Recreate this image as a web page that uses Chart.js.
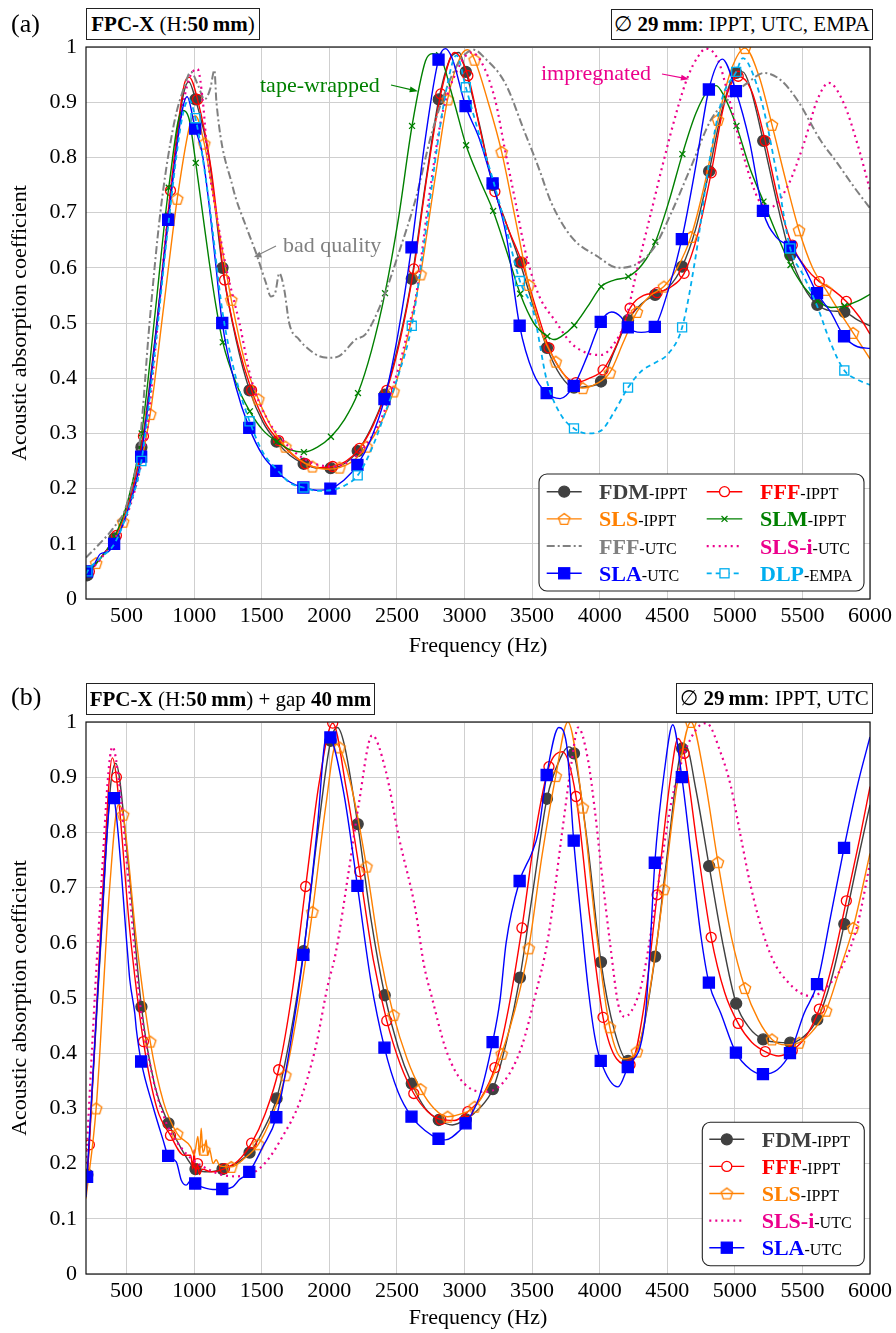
<!DOCTYPE html>
<html>
<head>
<meta charset="utf-8">
<script src="https://cdn.jsdelivr.net/npm/chart.js@4.4.1/dist/chart.umd.min.js"></script>
<style>
  body { margin: 0; background: #fff; font-family: "Liberation Serif", "Times New Roman", serif; }
  #page { position: relative; width: 896px; height: 1333px; overflow: hidden; }
  .panel { position: absolute; left: 0; width: 896px; }
  .tag { position: absolute; font-size: 26px; line-height: 30px; }
  .box { position: absolute; box-sizing: border-box; border: 1.2px solid #222; background: #fff;
         font-size: 21px; display: flex; align-items: center; justify-content: center; white-space: nowrap; }
  .note { position: absolute; font-size: 22px; line-height: 26px; white-space: nowrap; }
  svg { position: absolute; left: 0; top: 0; pointer-events: none; }
</style>
</head>
<body>
<div id="page">
  <div class="panel" style="top:0;height:665px"><canvas id="chartA" width="896" height="665"></canvas></div>
  <div class="panel" style="top:665px;height:668px"><canvas id="chartB" width="896" height="668"></canvas></div>

  <div class="tag" style="left:11px;top:9px">(a)</div>
  <div class="box" style="left:86px;top:8px;width:174px;height:32px"><span><b>FPC-X</b> (H:<b>50&#8201;mm</b>)</span></div>
  <div class="box" style="left:611px;top:9px;width:262px;height:31px"><span>&#8709; <b>29&#8201;mm</b>: IPPT, UTC, EMPA</span></div>

  <div class="tag" style="left:11px;top:682px">(b)</div>
  <div class="box" style="left:86px;top:683px;width:289px;height:32px"><span><b>FPC-X</b> (H:<b>50&#8201;mm</b>) + gap <b>40&#8201;mm</b></span></div>
  <div class="box" style="left:676px;top:683px;width:197px;height:31px"><span>&#8709; <b>29&#8201;mm</b>: IPPT, UTC</span></div>

  <div class="note" style="left:260px;top:72px;color:#008000">tape-wrapped</div>
  <div class="note" style="left:283px;top:232px;color:#808080">bad quality</div>
  <div class="note" style="left:541px;top:60px;color:#ec008c">impregnated</div>

  <svg width="896" height="1333">
    <line x1="391" y1="85" x2="414" y2="90.3" stroke="#008000" stroke-width="1.2"/>
    <polygon points="418,91.2 410.5,86.6 409.3,92.3" fill="#008000"/>
    <line x1="276" y1="246" x2="258" y2="255" stroke="#808080" stroke-width="1.2"/>
    <polygon points="254,257 262,257.5 259.5,251.5" fill="#808080"/>
    <line x1="662" y1="74" x2="685" y2="78.4" stroke="#ec008c" stroke-width="1.2"/>
    <polygon points="689,79.2 681.6,74.7 680.5,80.4" fill="#ec008c"/>
  </svg>
</div>

<script>
// ---------- axes ----------
const freqTicks = [500, 1000, 1500, 2000, 2500, 3000, 3500, 4000, 4500, 5000, 5500, 6000];
const absTicks = [0, 0.1, 0.2, 0.3, 0.4, 0.5, 0.6, 0.7, 0.8, 0.9, 1];

// ---------- (a) FPC-X, H 50 mm : [frequency Hz, absorption] ----------
const fdmA = [[210,0.043],[310,0.075],[410,0.11],[510,0.17],[610,0.275],[710,0.47],[810,0.69],[910,0.9],[960,0.937],[1010,0.905],[1110,0.8],[1160,0.7],[1210,0.6],[1310,0.47],[1410,0.378],[1510,0.32],[1610,0.285],[1710,0.26],[1810,0.245],[1910,0.237],[2010,0.237],[2110,0.245],[2210,0.268],[2310,0.31],[2410,0.37],[2510,0.46],[2610,0.58],[2710,0.75],[2810,0.905],[2910,0.985],[2960,0.99],[3010,0.955],[3110,0.86],[3210,0.75],[3310,0.68],[3410,0.61],[3510,0.53],[3610,0.455],[3710,0.405],[3810,0.383],[3910,0.385],[4010,0.394],[4110,0.45],[4210,0.505],[4310,0.535],[4410,0.551],[4510,0.565],[4610,0.602],[4710,0.67],[4810,0.775],[4910,0.89],[5010,0.953],[5060,0.955],[5110,0.93],[5210,0.83],[5310,0.72],[5410,0.623],[5510,0.565],[5610,0.533],[5710,0.522],[5810,0.52],[5910,0.505],[6000,0.495]];

const fffA = [[200,0.045],[225,0.05],[325,0.08],[425,0.115],[525,0.18],[625,0.295],[725,0.5],[825,0.74],[925,0.93],[965,0.945],[1025,0.905],[1125,0.78],[1225,0.578],[1325,0.46],[1425,0.378],[1525,0.32],[1625,0.287],[1725,0.262],[1825,0.245],[1925,0.238],[2025,0.24],[2125,0.25],[2225,0.273],[2325,0.315],[2425,0.378],[2525,0.47],[2625,0.598],[2725,0.77],[2825,0.915],[2925,0.99],[3025,0.948],[3125,0.84],[3225,0.738],[3325,0.67],[3425,0.61],[3525,0.53],[3625,0.455],[3725,0.41],[3825,0.392],[3925,0.4],[4025,0.415],[4125,0.46],[4225,0.527],[4325,0.55],[4425,0.555],[4525,0.565],[4625,0.59],[4725,0.66],[4825,0.772],[4925,0.9],[5025,0.947],[5125,0.92],[5225,0.83],[5325,0.72],[5425,0.641],[5525,0.6],[5625,0.575],[5725,0.56],[5825,0.539],[5925,0.51],[6000,0.48]];

const slsA = [[200,0.045],[275,0.065],[375,0.095],[475,0.14],[575,0.215],[675,0.335],[775,0.53],[875,0.725],[975,0.865],[1010,0.875],[1075,0.825],[1175,0.68],[1275,0.542],[1375,0.43],[1475,0.362],[1575,0.31],[1675,0.276],[1775,0.253],[1875,0.24],[1975,0.235],[2075,0.238],[2175,0.25],[2275,0.276],[2375,0.315],[2475,0.376],[2575,0.47],[2675,0.588],[2775,0.75],[2875,0.905],[2975,0.985],[3025,0.995],[3075,0.977],[3175,0.9],[3275,0.81],[3375,0.69],[3475,0.569],[3575,0.48],[3675,0.43],[3775,0.395],[3875,0.382],[3975,0.39],[4075,0.41],[4175,0.465],[4275,0.52],[4375,0.55],[4475,0.566],[4575,0.6],[4675,0.656],[4775,0.75],[4875,0.868],[4975,0.96],[5075,0.998],[5175,0.95],[5275,0.859],[5375,0.76],[5475,0.668],[5575,0.6],[5675,0.56],[5775,0.52],[5875,0.482],[6000,0.435]];

const slmA = [[200,0.048],[212,0.05],[312,0.075],[412,0.113],[512,0.18],[612,0.3],[712,0.52],[812,0.745],[912,0.885],[962,0.87],[1012,0.79],[1062,0.7],[1112,0.61],[1162,0.53],[1212,0.465],[1312,0.39],[1412,0.34],[1512,0.305],[1612,0.285],[1712,0.27],[1812,0.266],[1912,0.275],[2012,0.294],[2112,0.325],[2212,0.373],[2312,0.45],[2412,0.554],[2512,0.69],[2612,0.857],[2712,0.975],[2762,0.988],[2812,0.985],[2912,0.91],[3012,0.822],[3112,0.76],[3212,0.703],[3312,0.63],[3412,0.553],[3512,0.5],[3612,0.476],[3662,0.47],[3712,0.475],[3812,0.496],[3912,0.53],[4012,0.566],[4112,0.578],[4212,0.584],[4312,0.605],[4412,0.647],[4512,0.72],[4612,0.806],[4712,0.88],[4812,0.925],[4862,0.93],[4912,0.915],[5012,0.857],[5112,0.78],[5212,0.72],[5312,0.66],[5412,0.605],[5512,0.565],[5612,0.54],[5712,0.528],[5812,0.531],[5912,0.54],[6000,0.552]];

const fffUtcA = [[200,0.075],[300,0.1],[400,0.128],[500,0.17],[600,0.29],[670,0.5],[750,0.7],[850,0.86],[930,0.93],[975,0.955],[1030,0.93],[1077,0.905],[1120,0.925],[1150,0.958],[1165,0.9],[1285,0.747],[1384,0.675],[1458,0.627],[1532,0.572],[1568,0.548],[1600,0.555],[1630,0.59],[1667,0.56],[1703,0.5],[1777,0.47],[1850,0.452],[1925,0.44],[2000,0.437],[2072,0.44],[2195,0.47],[2269,0.48],[2391,0.54],[2514,0.627],[2637,0.723],[2758,0.844],[2883,0.935],[2980,0.98],[3070,0.995],[3150,0.98],[3300,0.935],[3448,0.844],[3546,0.783],[3644,0.717],[3791,0.656],[3988,0.62],[4136,0.6],[4283,0.608],[4406,0.638],[4529,0.699],[4676,0.783],[4823,0.868],[4950,0.905],[5094,0.935],[5217,0.953],[5340,0.94],[5462,0.904],[5634,0.831],[5757,0.79],[5880,0.747],[6000,0.708]];

const slsiA = [[200,0.045],[300,0.07],[400,0.105],[500,0.15],[600,0.235],[650,0.3],[700,0.42],[800,0.68],[900,0.87],[960,0.94],[1025,0.96],[1065,0.9],[1100,0.8],[1163,0.7],[1237,0.6],[1335,0.5],[1420,0.4],[1532,0.33],[1654,0.288],[1826,0.252],[2022,0.24],[2220,0.264],[2390,0.33],[2514,0.42],[2600,0.505],[2637,0.542],[2735,0.723],[2831,0.873],[2950,0.96],[3050,0.99],[3120,0.975],[3227,0.904],[3300,0.813],[3374,0.723],[3448,0.632],[3520,0.57],[3570,0.54],[3668,0.505],[3791,0.463],[3914,0.445],[4010,0.442],[4111,0.464],[4185,0.5],[4280,0.6],[4380,0.7],[4480,0.8],[4578,0.89],[4652,0.946],[4726,0.982],[4786,0.997],[4873,0.978],[4946,0.918],[5020,0.844],[5117,0.76],[5192,0.717],[5265,0.71],[5389,0.747],[5512,0.826],[5610,0.904],[5696,0.935],[5806,0.898],[5905,0.826],[6000,0.741]];

const slaA = [[200,0.045],[208,0.05],[258,0.062],[308,0.082],[358,0.085],[408,0.1],[508,0.16],[608,0.258],[708,0.46],[808,0.687],[908,0.88],[948,0.91],[1008,0.852],[1058,0.81],[1108,0.72],[1158,0.61],[1208,0.5],[1308,0.385],[1408,0.31],[1508,0.26],[1608,0.232],[1708,0.212],[1808,0.202],[1908,0.197],[2008,0.2],[2108,0.215],[2208,0.243],[2308,0.29],[2408,0.362],[2508,0.48],[2608,0.637],[2708,0.83],[2808,0.977],[2858,0.997],[2908,0.98],[3008,0.893],[3108,0.835],[3208,0.753],[3308,0.66],[3408,0.495],[3508,0.41],[3608,0.373],[3708,0.363],[3808,0.386],[3908,0.44],[4008,0.502],[4088,0.52],[4158,0.511],[4208,0.492],[4308,0.483],[4408,0.493],[4508,0.56],[4608,0.652],[4708,0.78],[4808,0.923],[4908,0.978],[5008,0.92],[5108,0.83],[5208,0.703],[5308,0.655],[5408,0.638],[5508,0.603],[5608,0.554],[5708,0.52],[5808,0.476],[5908,0.457],[6000,0.454]];

const dlpA = [[200,0.045],[210,0.05],[310,0.075],[410,0.1],[510,0.16],[610,0.25],[710,0.45],[810,0.68],[910,0.87],[960,0.905],[1010,0.871],[1110,0.72],[1210,0.52],[1310,0.4],[1410,0.322],[1510,0.265],[1610,0.235],[1710,0.21],[1810,0.202],[1910,0.196],[2010,0.197],[2110,0.205],[2210,0.224],[2310,0.27],[2410,0.335],[2510,0.405],[2610,0.495],[2710,0.66],[2810,0.84],[2870,0.928],[2940,0.985],[3010,0.927],[3110,0.84],[3210,0.76],[3310,0.67],[3410,0.576],[3510,0.52],[3610,0.395],[3710,0.335],[3810,0.309],[3910,0.3],[4010,0.305],[4110,0.34],[4210,0.383],[4310,0.413],[4410,0.428],[4510,0.445],[4610,0.492],[4710,0.62],[4810,0.79],[4910,0.91],[5010,0.955],[5060,0.98],[5110,0.965],[5210,0.89],[5310,0.77],[5410,0.635],[5510,0.585],[5610,0.53],[5710,0.463],[5810,0.414],[5910,0.397],[6000,0.388]];

// ---------- (b) FPC-X, H 50 mm + gap 40 mm ----------
const fdmB = [[200,0.14],[210,0.18],[310,0.6],[380,0.88],[420,0.925],[510,0.75],[610,0.484],[710,0.34],[810,0.273],[910,0.225],[1010,0.19],[1110,0.185],[1210,0.19],[1310,0.2],[1410,0.22],[1510,0.26],[1610,0.318],[1710,0.43],[1810,0.585],[1910,0.79],[2010,0.966],[2060,0.99],[2110,0.96],[2210,0.815],[2310,0.64],[2410,0.505],[2510,0.41],[2610,0.345],[2710,0.3],[2810,0.279],[2910,0.27],[3010,0.28],[3110,0.3],[3210,0.335],[3310,0.42],[3410,0.537],[3510,0.7],[3610,0.861],[3710,0.935],[3770,0.955],[3810,0.943],[3910,0.78],[4010,0.565],[4110,0.44],[4210,0.386],[4310,0.43],[4410,0.575],[4510,0.78],[4610,0.952],[4640,0.955],[4710,0.88],[4810,0.739],[4910,0.6],[5010,0.49],[5110,0.445],[5210,0.425],[5310,0.42],[5410,0.419],[5510,0.43],[5610,0.461],[5710,0.53],[5810,0.634],[5910,0.75],[6000,0.85]];

const fffB = [[200,0.15],[225,0.234],[325,0.7],[395,0.935],[425,0.9],[525,0.62],[625,0.421],[725,0.3],[825,0.251],[925,0.215],[975,0.215],[990,0.19],[1000,0.225],[1010,0.18],[1025,0.2],[1040,0.18],[1060,0.19],[1125,0.185],[1225,0.191],[1325,0.205],[1425,0.237],[1525,0.29],[1625,0.37],[1725,0.51],[1825,0.702],[1925,0.89],[2025,0.998],[2125,0.88],[2225,0.729],[2325,0.57],[2425,0.459],[2525,0.38],[2625,0.327],[2725,0.295],[2825,0.28],[2925,0.278],[3025,0.294],[3125,0.32],[3225,0.374],[3325,0.48],[3425,0.627],[3525,0.8],[3625,0.919],[3725,0.946],[3825,0.865],[3925,0.65],[4025,0.465],[4125,0.39],[4225,0.379],[4325,0.48],[4425,0.687],[4525,0.9],[4580,0.97],[4625,0.943],[4725,0.77],[4825,0.61],[4925,0.51],[5025,0.454],[5125,0.42],[5225,0.403],[5325,0.395],[5425,0.405],[5525,0.43],[5625,0.48],[5725,0.565],[5825,0.676],[5925,0.79],[6000,0.883]];

const slsB = [[200,0.137],[275,0.3],[375,0.7],[440,0.85],[475,0.832],[575,0.6],[675,0.421],[775,0.31],[875,0.254],[975,0.23],[1000,0.215],[1028,0.249],[1040,0.215],[1052,0.264],[1065,0.22],[1075,0.225],[1089,0.243],[1100,0.215],[1114,0.225],[1140,0.2],[1163,0.207],[1190,0.196],[1275,0.194],[1375,0.21],[1475,0.235],[1575,0.285],[1675,0.36],[1775,0.49],[1875,0.656],[1975,0.85],[2050,0.96],[2075,0.954],[2175,0.87],[2275,0.738],[2375,0.58],[2475,0.469],[2575,0.39],[2675,0.335],[2775,0.3],[2875,0.285],[2975,0.29],[3075,0.303],[3175,0.34],[3275,0.399],[3375,0.48],[3475,0.59],[3575,0.76],[3675,0.902],[3765,1.0],[3875,0.845],[3975,0.62],[4075,0.447],[4175,0.39],[4275,0.403],[4375,0.52],[4475,0.697],[4575,0.89],[4675,1.0],[4775,0.9],[4875,0.746],[4975,0.61],[5075,0.518],[5175,0.46],[5275,0.425],[5375,0.415],[5475,0.419],[5575,0.44],[5675,0.477],[5775,0.55],[5875,0.627],[6000,0.762]];

const slsiB = [[200,0.2],[300,0.65],[396,0.955],[450,0.88],[500,0.75],[600,0.49],[700,0.35],[800,0.27],[900,0.23],[1000,0.205],[1100,0.19],[1200,0.18],[1300,0.177],[1409,0.18],[1532,0.203],[1654,0.249],[1777,0.309],[1900,0.412],[1986,0.52],[2047,0.581],[2145,0.732],[2219,0.853],[2317,0.976],[2416,0.913],[2514,0.792],[2637,0.66],[2700,0.56],[2760,0.5],[2858,0.41],[2950,0.36],[3050,0.335],[3153,0.33],[3300,0.351],[3423,0.412],[3521,0.502],[3620,0.611],[3718,0.792],[3791,0.925],[3841,0.99],[3914,0.931],[3964,0.841],[4013,0.732],[4086,0.581],[4136,0.49],[4185,0.466],[4283,0.502],[4332,0.55],[4431,0.702],[4529,0.853],[4627,0.943],[4726,0.99],[4790,0.998],[4897,0.943],[4971,0.883],[5044,0.792],[5118,0.702],[5217,0.611],[5300,0.56],[5389,0.53],[5480,0.51],[5570,0.503],[5680,0.52],[5800,0.56],[5905,0.63],[6000,0.744]];

const slaB = [[200,0.14],[208,0.176],[308,0.6],[390,0.87],[408,0.862],[508,0.58],[524,0.533],[561,0.472],[573,0.442],[608,0.385],[696,0.303],[770,0.243],[808,0.214],[868,0.203],[905,0.17],[942,0.161],[979,0.171],[1008,0.164],[1090,0.155],[1138,0.153],[1208,0.154],[1286,0.158],[1335,0.171],[1408,0.185],[1507,0.23],[1608,0.284],[1708,0.41],[1808,0.578],[1908,0.8],[1980,0.975],[2008,0.972],[2108,0.87],[2208,0.703],[2308,0.53],[2408,0.41],[2508,0.33],[2608,0.285],[2708,0.26],[2808,0.245],[2858,0.243],[2908,0.248],[3008,0.273],[3108,0.32],[3208,0.42],[3263,0.496],[3308,0.6],[3408,0.712],[3497,0.762],[3546,0.8],[3608,0.904],[3698,0.99],[3755,0.96],[3808,0.785],[3864,0.64],[3914,0.52],[3964,0.43],[4008,0.386],[4136,0.339],[4208,0.375],[4332,0.454],[4370,0.58],[4408,0.745],[4480,0.913],[4541,0.995],[4608,0.9],[4676,0.762],[4750,0.611],[4808,0.528],[4897,0.472],[5008,0.401],[5118,0.37],[5208,0.362],[5315,0.37],[5408,0.4],[5512,0.472],[5608,0.525],[5708,0.647],[5808,0.772],[5905,0.883],[6000,0.973]];

// ---------- styles ----------
const FONT = '"Liberation Serif", "Times New Roman", serif';

function pentagonMark(color, r) {
    const c = document.createElement('canvas');
    const s = Math.ceil(r * 2 + 4);
    c.width = s; c.height = s;
    const g = c.getContext('2d');
    g.strokeStyle = color;
    g.lineWidth = 1.3;
    g.beginPath();
    for (let i = 0; i < 5; i++) {
        const ang = -Math.PI / 2 + i * 2 * Math.PI / 5;
        const px = s / 2 + r * Math.cos(ang), py = s / 2 + 0.6 + r * Math.sin(ang);
        if (i) g.lineTo(px, py); else g.moveTo(px, py);
    }
    g.closePath();
    g.stroke();
    return c;
}

const STY = {
    FDM:  { color: '#404040', width: 1.4, dash: [], mark: 'circle', r: 5.5, fill: true },
    FFF:  { color: '#ff0000', width: 1.4, dash: [], mark: 'circle', r: 5, fill: false },
    SLS:  { color: '#ff8000', width: 1.4, dash: [], mark: pentagonMark('#ff8000', 6), r: 6, fill: false },
    SLM:  { color: '#008000', width: 1.4, dash: [], mark: 'crossRot', r: 4.2, fill: false },
    FFFU: { color: '#808080', width: 2, dash: [8, 3, 2, 3], mark: null },
    SLSI: { color: '#ec008c', width: 2.2, dash: [2, 4], mark: null },
    SLA:  { color: '#0000ff', width: 1.4, dash: [], mark: 'rect', r: 7.8, fill: true },
    DLP:  { color: '#00aeef', width: 1.8, dash: [5, 4], mark: 'rect', r: 6.4, fill: false }
};

function series(pairs, sty, start, step, order) {
    const isMark = x => sty.mark && x >= start && (x - start) % step === 0;
    return {
        data: pairs.map(p => ({ x: p[0], y: p[1] })),
        borderColor: sty.color,
        borderWidth: sty.width,
        borderDash: sty.dash,
        pointStyle: sty.mark || 'circle',
        pointRadius: c => (c.raw && isMark(c.raw.x)) ? sty.r : 0,
        pointBorderColor: sty.color,
        pointBackgroundColor: sty.fill ? sty.color : 'rgba(0,0,0,0)',
        pointBorderWidth: 1.3,
        cubicInterpolationMode: 'monotone',
        fill: false,
        order: order
    };
}

function drawMark(ctx, sty, x, y) {
    if (!sty.mark) return;
    ctx.save();
    ctx.setLineDash([]);
    ctx.strokeStyle = sty.color;
    ctx.fillStyle = sty.color;
    ctx.lineWidth = 1.3;
    if (typeof sty.mark === 'object') {
        ctx.drawImage(sty.mark, x - sty.mark.width / 2, y - sty.mark.height / 2);
    } else if (sty.mark === 'circle') {
        ctx.beginPath();
        ctx.arc(x, y, sty.r, 0, Math.PI * 2);
        if (sty.fill) ctx.fill(); else { ctx.fillStyle = '#fff'; ctx.fill(); }
        ctx.stroke();
    } else if (sty.mark === 'rect') {
        const h = sty.r * Math.SQRT1_2;
        if (sty.fill) ctx.fillRect(x - h, y - h, 2 * h, 2 * h);
        else { ctx.fillStyle = '#fff'; ctx.fillRect(x - h, y - h, 2 * h, 2 * h); }
        ctx.strokeRect(x - h, y - h, 2 * h, 2 * h);
    } else if (sty.mark === 'crossRot') {
        const h = sty.r * Math.SQRT1_2;
        ctx.beginPath();
        ctx.moveTo(x - h, y - h); ctx.lineTo(x + h, y + h);
        ctx.moveTo(x - h, y + h); ctx.lineTo(x + h, y - h);
        ctx.stroke();
    }
    ctx.restore();
}

// plot frame + boxed legend
const framePlugin = {
    id: 'frameLegend',
    afterDraw(chart, args, opts) {
        const { ctx, chartArea: a } = chart;
        ctx.save();
        ctx.strokeStyle = '#111';
        ctx.lineWidth = 1.2;
        ctx.strokeRect(a.left, a.top, a.right - a.left, a.bottom - a.top);

        const L = opts.legend;
        if (L) {
            ctx.beginPath();
            ctx.roundRect(L.x, L.y, L.w, L.h, 8);
            ctx.fillStyle = '#fff';
            ctx.fill();
            ctx.lineWidth = 1.1;
            ctx.strokeStyle = '#222';
            ctx.stroke();
            L.items.forEach(it => {
                const [name, suffix, key, col, row] = it;
                const sty = STY[key];
                const c = L.cols[col];
                const y = L.rowY + row * L.rowH;
                ctx.save();
                ctx.strokeStyle = sty.color;
                ctx.lineWidth = sty.width;
                ctx.setLineDash(sty.dash);
                ctx.beginPath();
                ctx.moveTo(c.lx, y);
                ctx.lineTo(c.lx + c.lw, y);
                ctx.stroke();
                ctx.restore();
                drawMark(ctx, sty, c.lx + c.lw / 2, y);
                ctx.textBaseline = 'alphabetic';
                ctx.textAlign = 'left';
                ctx.font = 'bold 22px ' + FONT;
                ctx.fillStyle = sty.color;
                ctx.fillText(name, c.tx, y + 7.5);
                const w = ctx.measureText(name).width;
                ctx.font = '16px ' + FONT;
                ctx.fillStyle = '#000';
                ctx.fillText(suffix, c.tx + w, y + 7.5);
            });
        }
        ctx.restore();
    }
};

function makeChart(id, datasets, lay) {
    const tickFont = { family: FONT, size: 22 };
    return new Chart(document.getElementById(id), {
        type: 'line',
        data: { datasets: datasets },
        options: {
            responsive: false,
            animation: false,
            devicePixelRatio: 1,
            events: [],
            parsing: false,
            layout: { padding: { left: 0, right: 23, top: lay.top, bottom: 0 } },
            plugins: {
                legend: { display: false },
                tooltip: { enabled: false },
                frameLegend: { legend: lay.legend }
            },
            scales: {
                x: {
                    type: 'linear', min: 200, max: 6000,
                    afterBuildTicks: ax => { ax.ticks = freqTicks.map(v => ({ value: v })); },
                    afterFit: ax => { ax.height = lay.xh; },
                    grid: { color: '#cfcfcf', lineWidth: 1, drawTicks: false },
                    border: { display: false },
                    ticks: { padding: 4, font: tickFont, color: '#000', maxRotation: 0, autoSkip: false,
                             callback: v => String(v) },
                    title: { display: true, text: 'Frequency (Hz)', font: tickFont, color: '#000',
                             padding: { top: 0, bottom: lay.titlePad } }
                },
                y: {
                    type: 'linear', min: 0, max: 1,
                    afterBuildTicks: ax => { ax.ticks = absTicks.map(v => ({ value: v })); },
                    afterFit: ax => { ax.width = 86; },
                    grid: { color: '#cfcfcf', lineWidth: 1, drawTicks: false },
                    border: { display: false },
                    ticks: { padding: 9, font: tickFont, color: '#000',
                             callback: v => String(Math.round(v * 10) / 10) },
                    title: { display: true, text: 'Acoustic absorption coefficient', font: tickFont, color: '#000',
                             padding: { top: 7, bottom: 0 } }
                }
            }
        },
        plugins: [framePlugin]
    });
}

// ---------- chart (a) ----------
makeChart('chartA', [
    series(fdmA, STY.FDM, 210, 200, 0),
    series(fffA, STY.FFF, 225, 200, -1),
    series(slsA, STY.SLS, 275, 200, -2),
    series(slmA, STY.SLM, 212, 200, -3),
    series(fffUtcA, STY.FFFU, 0, 1, -4),
    series(slsiA, STY.SLSI, 0, 1, -5),
    series(slaA, STY.SLA, 208, 200, -6),
    series(dlpA, STY.DLP, 210, 400, -7)
], {
    top: 47, xh: 66, titlePad: 6,
    legend: {
        x: 539, y: 474, w: 325, h: 117, rowY: 491.7, rowH: 27.2,
        cols: [{ lx: 546.7, lw: 35, tx: 599 }, { lx: 706.7, lw: 35.6, tx: 760 }],
        items: [
            ['FDM', '-IPPT', 'FDM', 0, 0], ['FFF', '-IPPT', 'FFF', 1, 0],
            ['SLS', '-IPPT', 'SLS', 0, 1], ['SLM', '-IPPT', 'SLM', 1, 1],
            ['FFF', '-UTC', 'FFFU', 0, 2], ['SLS-i', '-UTC', 'SLSI', 1, 2],
            ['SLA', '-UTC', 'SLA', 0, 3], ['DLP', '-EMPA', 'DLP', 1, 3]
        ]
    }
});

// ---------- chart (b) ----------
makeChart('chartB', [
    series(fdmB, STY.FDM, 210, 200, 0),
    series(fffB, STY.FFF, 225, 200, -1),
    series(slsB, STY.SLS, 275, 200, -2),
    series(slsiB, STY.SLSI, 0, 1, -3),
    series(slaB, STY.SLA, 208, 200, -4)
], {
    top: 57, xh: 59, titlePad: 2,
    legend: {
        x: 702.3, y: 457.3, w: 162, h: 143.4, rowY: 474.3, rowH: 27.1,
        cols: [{ lx: 709.3, lw: 35, tx: 761.7 }],
        items: [
            ['FDM', '-IPPT', 'FDM', 0, 0], ['FFF', '-IPPT', 'FFF', 0, 1],
            ['SLS', '-IPPT', 'SLS', 0, 2], ['SLS-i', '-UTC', 'SLSI', 0, 3],
            ['SLA', '-UTC', 'SLA', 0, 4]
        ]
    }
});
</script>
</body>
</html>
